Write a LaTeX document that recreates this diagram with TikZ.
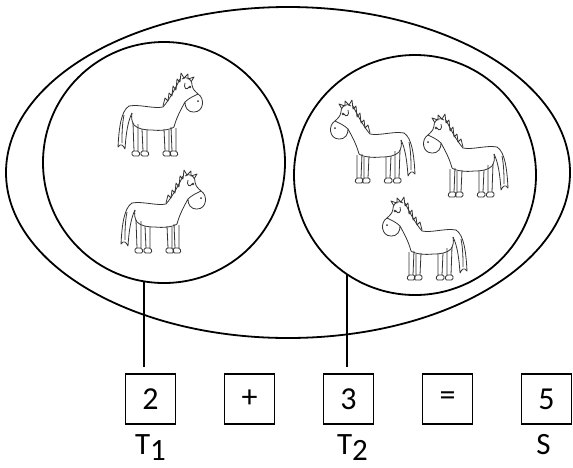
\documentclass[tikz,border=0pt]{standalone}
\usepackage{fontspec}
\setmainfont{Carlito}
\usepackage{tikz}
\usetikzlibrary{shapes.geometric}
\tikzstyle{set} = [ ellipse, draw = black, line width = 1.8pt, inner sep = 0pt ]
\tikzstyle{box} = [ rectangle, minimum size = 50pt, inner sep = 0pt, %
                    draw = black, line width = 1.4pt, %
                    font = \fontsize{32}{36}\selectfont ]
\tikzstyle{lbl} = [ anchor = base, inner sep = 0pt, %
                    font = \fontsize{31}{36}\selectfont ]
\tikzstyle{line} = [ line width = 1.8pt, shorten >= 6pt ]
\tikzstyle{horseline} = [ black!80, line width = 0.8pt, line join = round ]
\tikzset{horse/.pic={
  % tail
  \draw[horseline] (11,33) .. controls (3,38) and (1,55) .. (0,74)
    .. controls (3,70) and (5,72) .. (7,76)
    .. controls (8,60) and (10,48) .. (14,40);
  \draw[horseline] (6,42) .. controls (4,52) and (4,62) .. (4,70);
  % back and neck
  \draw[horseline] (11,33) .. controls (22,31) and (35,36) .. (45,34)
    .. controls (52,26) and (58,14) .. (62,6);
  % mane
  \draw[horseline] (45,33) -- (47,25) -- (50,28) -- (51,20) -- (54,23)
    -- (55,13) -- (58,17) -- (59,6) -- (62,9) -- (63,0) -- (66,5)
    -- (70,1) -- (70,6) -- (76,4) -- (73,9);
  % head
  \draw[horseline] (64,6) .. controls (68,3) and (74,5) .. (74,12)
    .. controls (75,17) and (77,18) .. (80,21)
    .. controls (87,25) and (86,39) .. (76,39)
    .. controls (69,39) and (67,34) .. (67,29)
    .. controls (62,38) and (58,46) .. (56,54);
  \draw[horseline] (67,10) .. controls (65,15) and (69,18) .. (71,14);
  \fill[black!80] (72,14) circle (1.4);
  \fill[black!80] (80,28) circle (1);
  \draw[horseline] (67,29) .. controls (71,25) and (76,23) .. (80,21);
  % belly
  \draw[horseline] (56,54) .. controls (52,57) and (42,58) .. (34,57)
    .. controls (26,57) and (20,56) .. (16,52)
    .. controls (14,49) and (13,45) .. (14,40);
  % legs
  \foreach \lx/\ly in {15/50, 24/56, 46/56, 53/54} {
    \draw[horseline] (\lx,\ly) -- (\lx+1,78) (\lx+5,\ly+1) -- (\lx+5,78);
    \draw[horseline, rounded corners=1.5pt] (\lx-1,78) -- (\lx-1,83)
      -- (\lx+7,83) -- (\lx+6,78) -- cycle;
  }
}}

\begin{document}
\begin{tikzpicture}[x = 1pt, y = -1pt, node distance = 99pt]
      \useasboundingbox (0,0) rectangle (573,467);
      % Sets
      \node (all)  [set, minimum width = 564pt, minimum height = 331pt] at (288,172.5) {};
      \node (set1) [set, minimum width = 242pt, minimum height = 241pt] at (164,162.5) {};
      \node (set2) [set, minimum width = 242pt, minimum height = 240pt] at (415,175) {};
      % Horses
      \pic at (118,73) {horse};
      \pic at (121,170) {horse};
      \pic [xscale = -1] at (415,100) {horse};
      \pic [xscale = -1] at (508,114) {horse};
      \pic [xscale = -1] at (467,197) {horse};
      % Boxes
      \node (num1) [box] at (150.5,399) {2};
      \node (plus) [box,right of=num1] {+};
      \node (num2) [box,right of=plus] {3};
      \node (eq)   [box,right of=num2] {=};
      \node (sum)  [box,right of=eq]   {5};
      % Labels
      \node (t1) [lbl] at ([yshift=-30pt]num1.south) {T\raisebox{-6pt}{1}};
      \node (t2) [lbl] at ([xshift=4pt,yshift=-30pt]num2.south) {T\raisebox{-6pt}{2}};
      \node (s)  [lbl] at ([xshift=-3pt,yshift=-30pt]sum.south) {S};
      % Lines
      \coordinate (c1) at (144,281);
      \coordinate (c2) at (347,274);
      \draw [line] (c1) -- (c1 |- num1.north);
      \draw [line] (c2) -- (c2 |- num2.north);
    \end{tikzpicture}
\end{document}
